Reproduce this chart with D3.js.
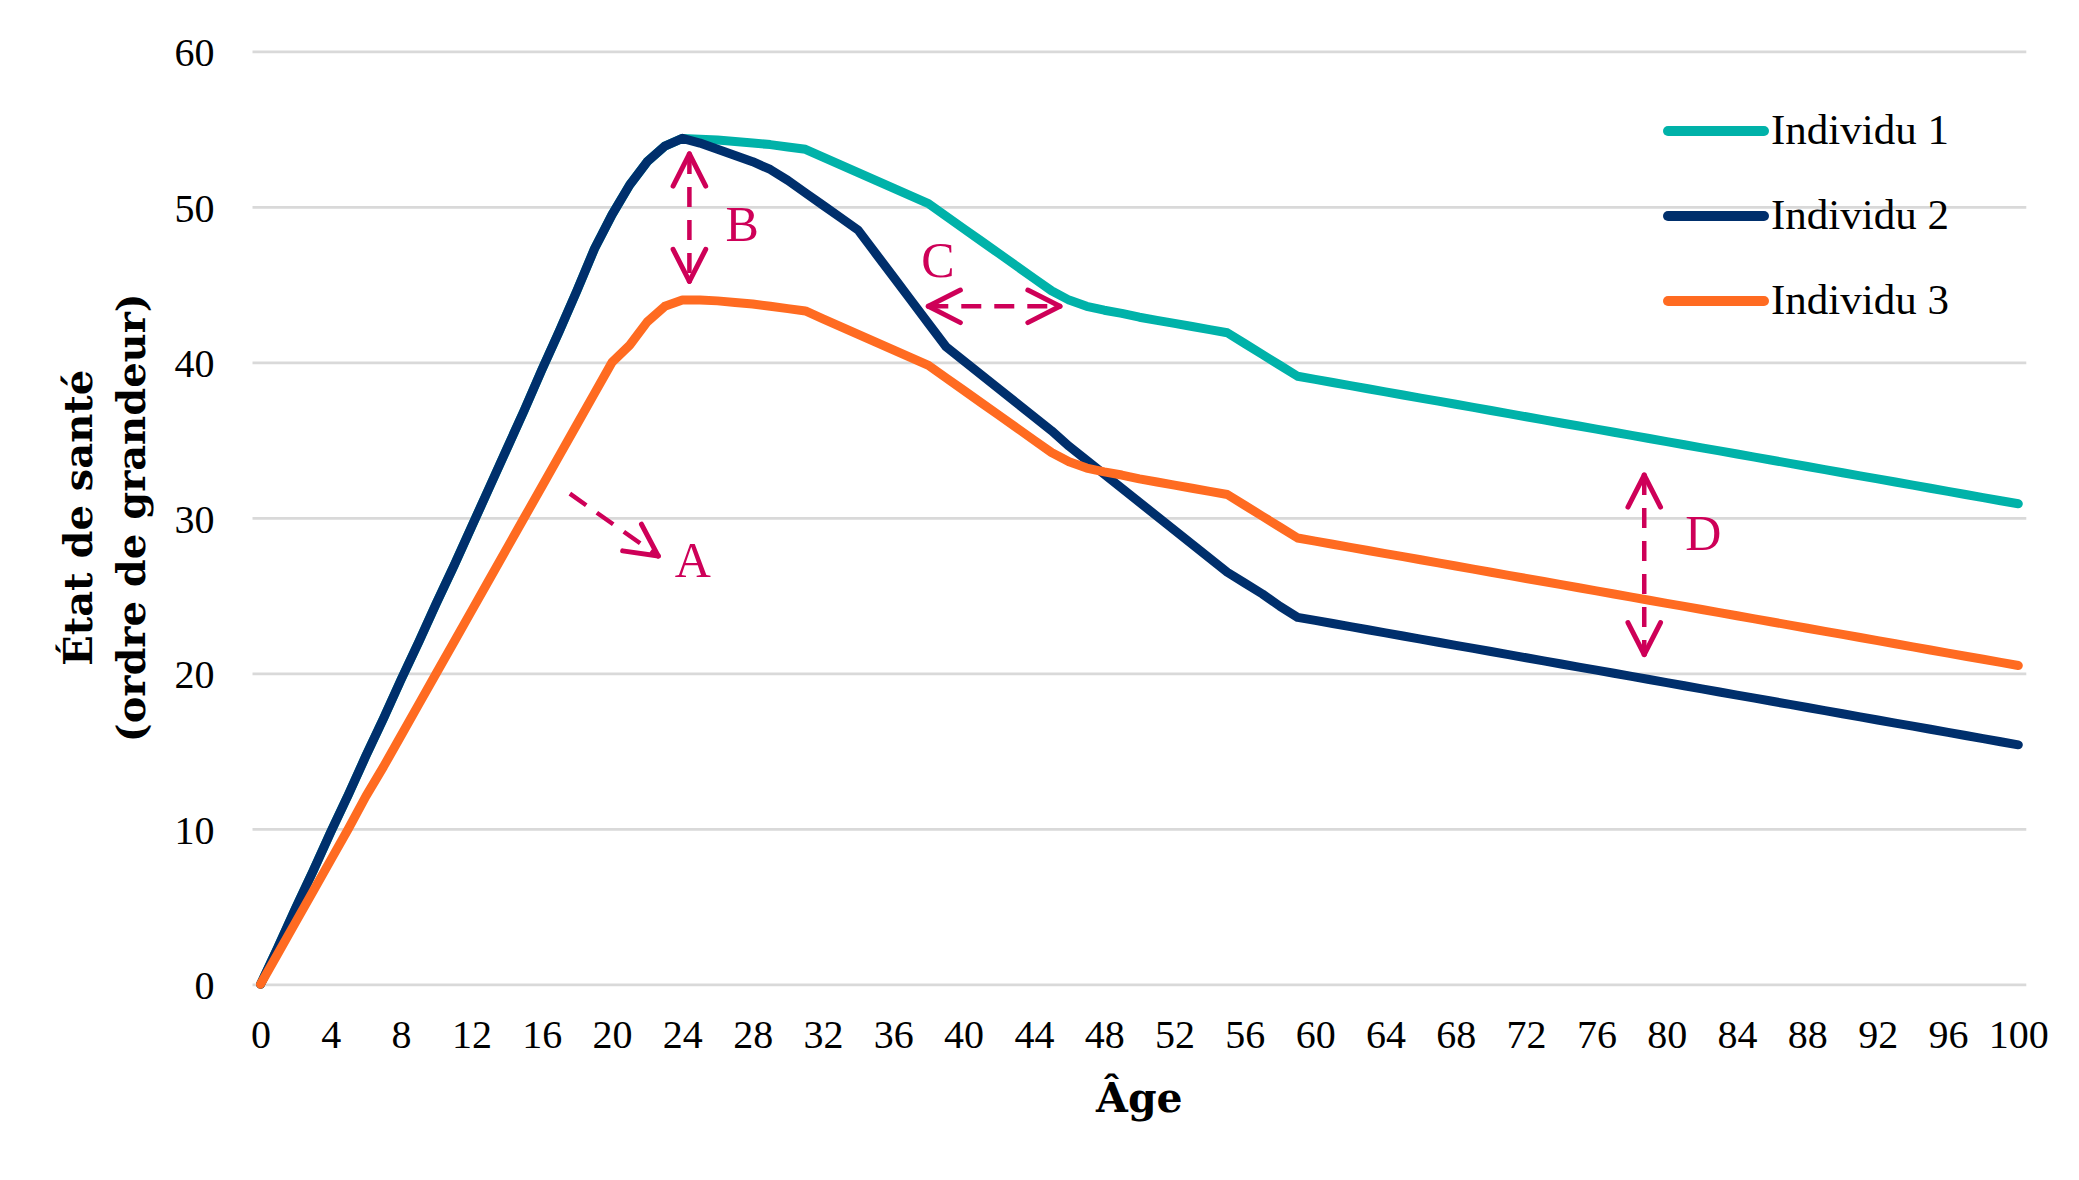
<!DOCTYPE html>
<html>
<head>
<meta charset="utf-8">
<script src="https://cdn.jsdelivr.net/npm/d3@7"></script>
<style>
body{margin:0;background:#fff;}
</style>
</head>
<body>
<script>
// data (one value per year of age)
var ages = d3.range(0, 101);
var ageTicks = d3.range(0, 101, 4);
var valueTicks = [0, 10, 20, 30, 40, 50, 60];
var seriesNames = ['Individu 1', 'Individu 2', 'Individu 3'];

var individu1 = [0, 2.4, 4.9, 7.3, 9.8, 12.2, 14.7, 17.1, 19.6, 22.0, 24.5, 26.9, 29.4, 31.9, 34.4, 36.9, 39.5, 42.0, 44.6, 47.3, 49.5, 51.4, 52.9, 53.9, 54.4,
	54.35, 54.3, 54.2, 54.1, 54.0, 53.85, 53.7, 53.2, 52.7, 52.2, 51.7, 51.2, 50.7, 50.2, 49.4, 48.6, 47.8, 47.0, 46.2, 45.4, 44.6, 44.0, 43.6, 43.35, 43.15, 42.9, 42.7, 42.5, 42.3, 42.1, 41.9, 41.2, 40.5, 39.8, 39.1,
	38.9, 38.7, 38.5, 38.3, 38.1, 37.9, 37.7, 37.5, 37.3, 37.1, 36.9, 36.7, 36.5, 36.3, 36.1, 35.9, 35.7, 35.5, 35.3, 35.1, 34.9, 34.7, 34.5, 34.3, 34.1, 33.9, 33.7, 33.5, 33.3, 33.1, 32.9, 32.7, 32.5, 32.3, 32.1, 31.9, 31.7, 31.5, 31.3, 31.1, 30.9];

var individu2 = [0, 2.4, 4.9, 7.3, 9.8, 12.2, 14.7, 17.1, 19.6, 22.0, 24.5, 26.9, 29.4, 31.9, 34.4, 36.9, 39.5, 42.0, 44.6, 47.3, 49.5, 51.4, 52.9, 53.9, 54.4,
	54.1, 53.7, 53.3, 52.9, 52.4, 51.7, 50.9, 50.1, 49.3, 48.5, 47.0, 45.5, 44.0, 42.5, 41.0, 40.1, 39.2, 38.3, 37.4, 36.5, 35.6, 34.6, 33.7, 32.8, 31.9, 31.0, 30.1, 29.2, 28.3, 27.4, 26.5, 25.8, 25.1, 24.3, 23.6,
	23.4, 23.2, 23.0, 22.8, 22.6, 22.4, 22.2, 22.0, 21.8, 21.6, 21.4, 21.2, 21.0, 20.8, 20.6, 20.4, 20.2, 20.0, 19.8, 19.6, 19.4, 19.2, 19.0, 18.8, 18.6, 18.4, 18.2, 18.0, 17.8, 17.6, 17.4, 17.2, 17.0, 16.8, 16.6, 16.4, 16.2, 16.0, 15.8, 15.6, 15.4];

var individu3 = [0, 2.0, 4.0, 6.0, 8.0, 10.0, 12.1, 14.0, 16.0, 18.0, 20.0, 22.0, 24.0, 26.0, 28.0, 30.0, 32.0, 34.0, 36.0, 38.0, 40.0, 41.1, 42.6, 43.6, 44.0, 44.0,
	43.95, 43.85, 43.75, 43.6, 43.45, 43.3, 42.8, 42.3, 41.8, 41.3, 40.8, 40.3, 39.8, 39.0, 38.2, 37.4, 36.6, 35.8, 35.0, 34.2, 33.6, 33.2, 32.95, 32.75, 32.5, 32.3, 32.1, 31.9, 31.7, 31.5, 30.8, 30.1, 29.4, 28.7,
	28.5, 28.3, 28.1, 27.9, 27.7, 27.5, 27.3, 27.1, 26.9, 26.7, 26.5, 26.3, 26.1, 25.9, 25.7, 25.5, 25.3, 25.1, 24.9, 24.7, 24.5, 24.3, 24.1, 23.9, 23.7, 23.5, 23.3, 23.1, 22.9, 22.7, 22.5, 22.3, 22.1, 21.9, 21.7, 21.5, 21.3, 21.1, 20.9, 20.7, 20.5];

// annotations, in [age, value]
var annotLetters = ['A', 'B', 'C', 'D'];
var annotFrom = [[17.6, 31.55], [24.4, 53.4], [37.99, 43.6], [78.72, 32.75]];
var annotTo = [[22.63, 27.54], [24.4, 45.2], [45.48, 43.6], [78.72, 21.2]];
var annotBoth = [false, true, true, true];
var annotLabel = [[24.6, 26.2], [27.4, 47.8], [38.54, 45.5], [82.08, 27.9]];

var colors = ['#00b2a9', '#002f6c', '#ff6b21'];
var magenta = '#ce0058';
var serif = "Georgia, 'Liberation Serif', serif";
var titleFont = "'DejaVu Serif', Georgia, serif";

var W = 2079, H = 1180;
var svg = d3.select('body').append('svg').attr('width', W).attr('height', H);

var x = d3.scaleLinear().domain([0, 100]).range([260.5, 2018.3]);
var y = d3.scaleLinear().domain([0, 60]).range([984.3, 51.3]);

// y axis + gridlines
var gridLeft = x(0) - 8, gridRight = x(100) + 8;
var yAxis = svg.append('g')
	.attr('transform', 'translate(' + gridLeft + ',0)')
	.call(d3.axisLeft(y).tickValues(valueTicks).tickSizeInner(-(gridRight - gridLeft)).tickSizeOuter(0).tickPadding(38));
yAxis.select('.domain').remove();
yAxis.selectAll('.tick line').attr('stroke', '#d9d9d9').attr('stroke-width', 2.8);
yAxis.selectAll('.tick text').attr('font-family', serif).attr('font-size', 40).attr('fill', '#000').attr('dy', '0.36em');

// x axis
var xAxis = svg.append('g')
	.attr('transform', 'translate(0,' + y(0) + ')')
	.call(d3.axisBottom(x).tickValues(ageTicks).tickSize(0).tickPadding(35));
xAxis.select('.domain').remove();
xAxis.selectAll('.tick text').attr('font-family', serif).attr('font-size', 40).attr('fill', '#000');

// axis titles
svg.append('text')
	.attr('x', (x(0) + x(100)) / 2).attr('y', 1112)
	.attr('text-anchor', 'middle')
	.attr('font-family', titleFont).attr('font-weight', 'bold').attr('font-size', 41)
	.text('Âge');
[['État de santé', 92], ['(ordre de grandeur)', 145]].forEach(function(t){
	svg.append('text')
		.attr('transform', 'translate(' + t[1] + ',' + (y(0) + y(60)) / 2 + ') rotate(-90)')
		.attr('text-anchor', 'middle')
		.attr('font-family', titleFont).attr('font-weight', 'bold').attr('font-size', 40)
		.text(t[0]);
});

// series
var line = d3.line().x(function(d, i){ return x(ages[i]); }).y(function(d){ return y(d); });
svg.append('g').selectAll('path')
	.data([individu1, individu2, individu3])
	.enter().append('path')
	.attr('d', line)
	.attr('fill', 'none')
	.attr('stroke', function(d, i){ return colors[i]; })
	.attr('stroke-width', 9)
	.attr('stroke-linejoin', 'round')
	.attr('stroke-linecap', 'round');

// legend
var legend = svg.append('g').selectAll('g')
	.data(seriesNames)
	.enter().append('g')
	.attr('transform', function(d, i){ return 'translate(1668,' + (131 + i * 85) + ')'; });
legend.append('line')
	.attr('x1', 0).attr('x2', 96)
	.attr('stroke', function(d, i){ return colors[i]; })
	.attr('stroke-width', 10).attr('stroke-linecap', 'round');
legend.append('text')
	.attr('x', 103).attr('y', 13)
	.attr('font-family', serif).attr('font-size', 43)
	.text(function(d){ return d; });

// annotation arrows
function head(g, tip, from){
	var a = Math.atan2(from[1] - tip[1], from[0] - tip[0]);
	[-0.47, 0.47].forEach(function(o){
		g.append('line')
			.attr('x1', tip[0]).attr('y1', tip[1])
			.attr('x2', tip[0] + 36 * Math.cos(a + o)).attr('y2', tip[1] + 36 * Math.sin(a + o))
			.attr('stroke', magenta).attr('stroke-width', 5).attr('stroke-linecap', 'round');
	});
}
var annot = svg.append('g');
annotLetters.forEach(function(l, i){
	var p0 = [x(annotFrom[i][0]), y(annotFrom[i][1])];
	var p1 = [x(annotTo[i][0]), y(annotTo[i][1])];
	annot.append('line')
		.attr('x1', p0[0]).attr('y1', p0[1]).attr('x2', p1[0]).attr('y2', p1[1])
		.attr('stroke', magenta).attr('stroke-width', 4.5)
		.attr('stroke-dasharray', '20,13');
	head(annot, p1, p0);
	if (annotBoth[i]) head(annot, p0, p1);
	annot.append('text')
		.attr('x', x(annotLabel[i][0])).attr('y', y(annotLabel[i][1]))
		.attr('text-anchor', 'middle')
		.attr('font-family', serif).attr('font-size', 50).attr('fill', magenta)
		.text(l);
});
</script>
</body>
</html>
